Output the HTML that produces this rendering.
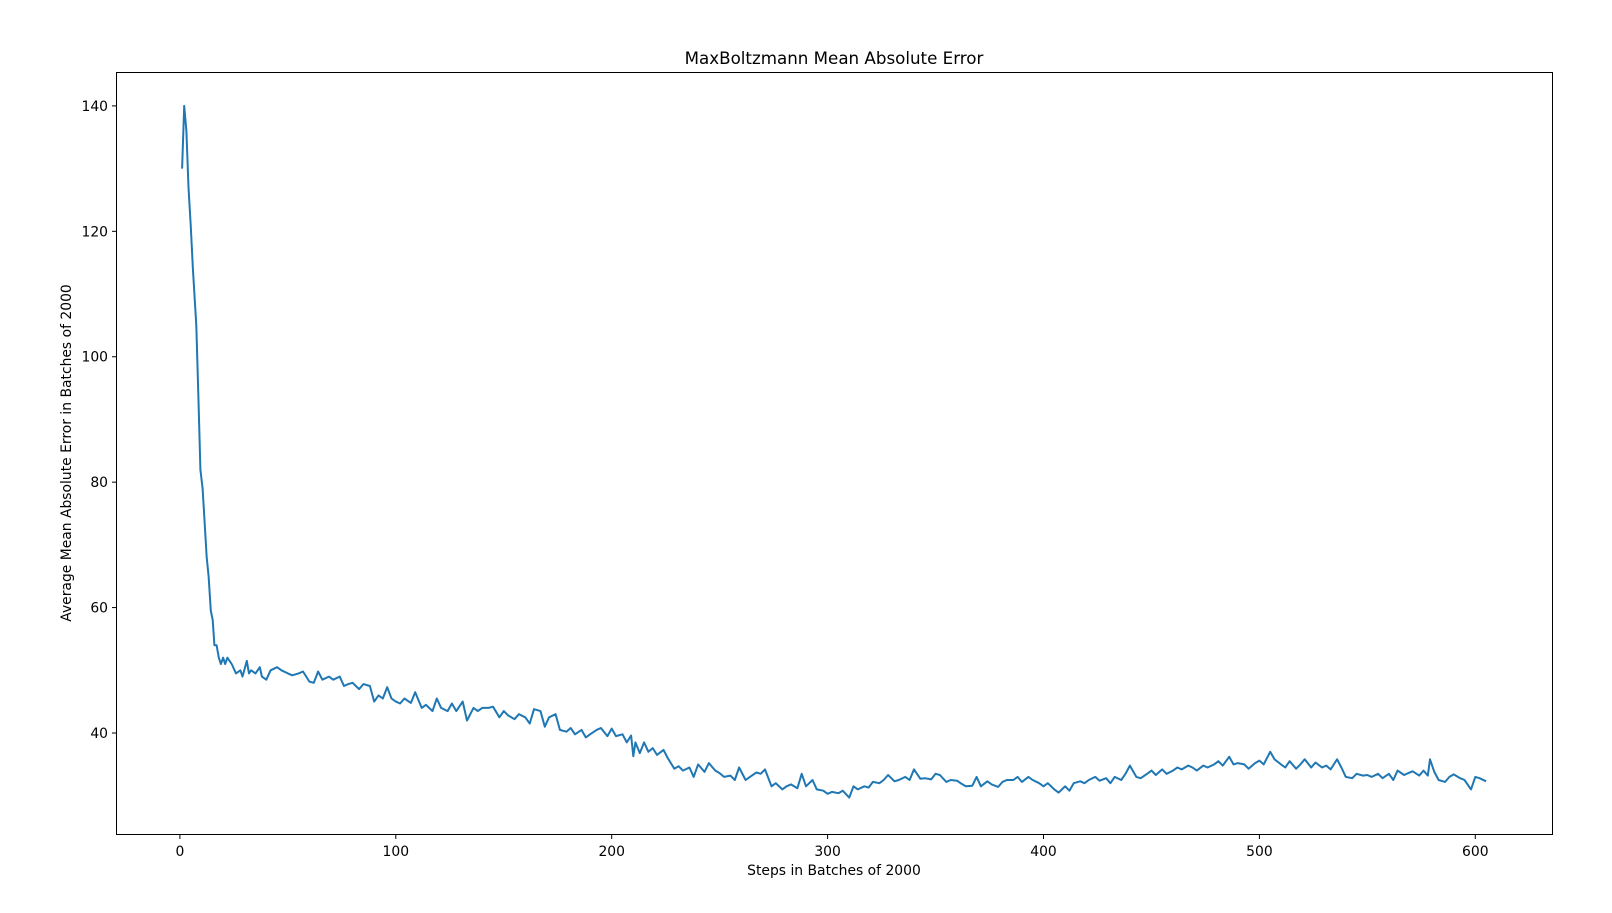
<!DOCTYPE html>
<html><head><meta charset="utf-8"><style>
body{margin:0;background:#fff;}
svg text{font-family:"DejaVu Sans","Liberation Sans",sans-serif;fill:#000;}
</style></head><body>
<svg id="chart" width="1612" height="908" xmlns="http://www.w3.org/2000/svg">
<rect width="1612" height="908" fill="#fff"/>
<text x="834" y="64" font-size="16.7" text-anchor="middle">MaxBoltzmann Mean Absolute Error</text>
<text x="834" y="875" font-size="13.9" text-anchor="middle">Steps in Batches of 2000</text>
<text x="0" y="0" font-size="13.9" text-anchor="middle" transform="translate(71,453) rotate(-90)">Average Mean Absolute Error in Batches of 2000</text>
<g id="axes"></g>
<path id="series" fill="none" stroke="#1f77b4" stroke-width="2" stroke-linejoin="round"/>
<rect x="116.5" y="72.5" width="1436" height="762" fill="none" stroke="#000" stroke-width="1"/>
</svg>
<script>
const steps = [
1,2,3,4,5,6,7.6,8.6,9.5,10.5,
12.4,13.3,14.3,15.2,16,17,18,19,20,21,
22,23,24,26,28,29,31,32,33,35,
37,38,40,42,45,47,50,52,55,57,
60,62,64,66,69,71,74,76,78,80,
83,85,88,90,92,94,96,98,100,102,
104,107,109,112,114,117,119,121,124,126,
128,131,133,136,138,140,143,145,148,150,
152,155,157,160,162,164,167,169,171,174,
176,179,181,183,186,188,190,193,195,198,
200,202,205,207,209,210,211,213,215,217,
219,221,224,226,229,231,233,236,238,240,
243,245,248,250,252,255,257,259,262,264,
267,269,271,274,276,279,281,283,286,288,
290,293,295,298,300,302,305,307,310,312,
314,317,319,321,324,326,328,331,333,336,
338,340,343,345,348,350,352,355,357,360,
362,364,367,369,371,374,376,379,381,383,
386,388,390,393,395,398,400,402,405,407,
410,412,414,417,419,421,424,426,429,431,
433,436,438,440,443,445,448,450,452,455,
457,460,462,464,467,469,471,474,476,479,
481,483,486,488,490,493,495,498,500,502,
505,507,510,512,514,517,519,521,524,526,
529,531,533,536,538,540,543,545,548,550,
552,555,557,560,562,564,567,569,571,574,
576,578,579,581,583,586,588,590,593,595,
598,600,602,605];
const values = [
130,140,136,127,121,114,105,93,82,79,
68,65,59.5,58,54,54,52,51,52,51,
52,51.5,51,49.5,50,49,51.5,49.5,50,49.5,
50.5,49,48.5,50,50.5,50,49.5,49.2,49.5,49.8,
48.2,48,49.8,48.5,49,48.5,49,47.5,47.8,48,
47,47.8,47.5,45,46,45.5,47.3,45.5,45,44.7,
45.5,44.8,46.5,44,44.5,43.5,45.5,44,43.5,44.7,
43.5,45,42,44,43.5,44,44,44.2,42.5,43.5,
42.8,42.2,43,42.5,41.5,43.8,43.5,41,42.5,43,
40.5,40.2,40.8,39.8,40.5,39.3,39.8,40.5,40.8,39.5,
40.7,39.5,39.8,38.5,39.6,36.3,38.5,36.8,38.5,37,
37.6,36.5,37.3,36,34.3,34.7,34,34.5,33,35,
33.8,35.2,34,33.6,33,33.2,32.5,34.5,32.5,33,
33.7,33.5,34.2,31.5,32,31,31.5,31.8,31.2,33.5,
31.5,32.5,31,30.8,30.3,30.6,30.4,30.8,29.7,31.5,
31,31.5,31.3,32.2,32,32.5,33.3,32.3,32.5,33,
32.5,34.2,32.7,32.8,32.6,33.5,33.3,32.2,32.5,32.4,
31.9,31.5,31.6,33,31.5,32.3,31.8,31.4,32.2,32.5,
32.5,33,32.2,33,32.5,32,31.5,32,31,30.5,
31.5,30.8,32,32.3,32,32.5,33,32.4,32.8,32,
33,32.5,33.5,34.8,33,32.8,33.5,34,33.3,34.2,
33.5,34,34.5,34.2,34.8,34.5,34,34.8,34.5,35,
35.5,34.8,36.2,35,35.2,35,34.3,35.2,35.6,35,
37,35.8,35,34.5,35.5,34.3,35,35.8,34.5,35.3,
34.5,34.8,34.2,35.8,34.5,33,32.8,33.5,33.2,33.3,
33,33.5,32.8,33.5,32.5,34,33.3,33.6,33.9,33.2,
34,33.2,35.8,33.8,32.5,32.2,33,33.4,32.8,32.5,
31,33,32.8,32.3];
const xTicks = [0,100,200,300,400,500,600];
const yTicks = [40,60,80,100,120,140];

const X = v => 179.9 + v*2.159;
const Y = v => 733.0 - (v-40)*6.271;
const ns = "http://www.w3.org/2000/svg";
const axes = document.getElementById('axes');
xTicks.forEach(t=>{
  const l=document.createElementNS(ns,'line');
  
  
  l.setAttribute('x1',X(t));l.setAttribute('x2',X(t));l.setAttribute('y1',834.5);l.setAttribute('y2',839);l.setAttribute('stroke','#000');
  axes.appendChild(l);
  const tx=document.createElementNS(ns,'text');
  
  
  tx.setAttribute('x',X(t));tx.setAttribute('y',856);tx.setAttribute('font-size','13.9');tx.setAttribute('text-anchor','middle');
  tx.textContent=t;axes.appendChild(tx);
});
yTicks.forEach(t=>{
  const l=document.createElementNS(ns,'line');
  
  
  l.setAttribute('x1',112);l.setAttribute('x2',116.5);l.setAttribute('y1',Y(t));l.setAttribute('y2',Y(t));l.setAttribute('stroke','#000');
  axes.appendChild(l);
  const tx=document.createElementNS(ns,'text');
  
  
  tx.setAttribute('x',108);tx.setAttribute('y',Y(t)+5);tx.setAttribute('font-size','13.9');tx.setAttribute('text-anchor','end');
  tx.textContent=t;axes.appendChild(tx);
});
document.getElementById('series').setAttribute('d', steps.map((s,i)=>(i?'L':'M')+X(s).toFixed(1)+','+Y(values[i]).toFixed(1)).join(''));
</script>
</body></html>
